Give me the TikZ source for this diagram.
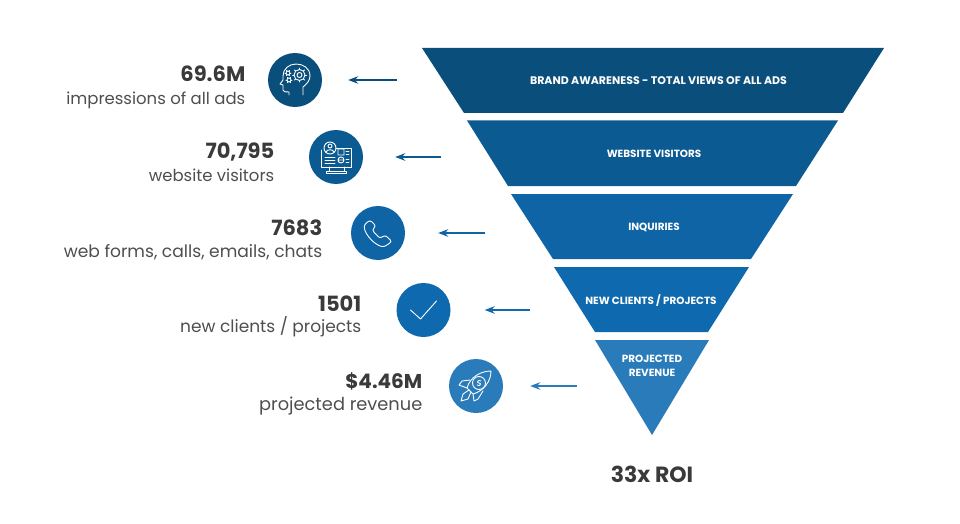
\documentclass[tikz,border=0pt]{standalone}
\usepackage{fontspec}
\setmainfont{Poppins}
\usepackage{xcolor}
\usetikzlibrary{arrows.meta}
\definecolor{tierA}{HTML}{0A4E7C}
\definecolor{tierB}{HTML}{0B5A92}
\definecolor{tierC}{HTML}{0E64A5}
\definecolor{tierD}{HTML}{0F69AE}
\definecolor{tierE}{HTML}{2A7BBA}
\definecolor{ink}{HTML}{3A3A3A}
\tikzset{
  stagelabel/.style={text=white, inner sep=0pt, align=center, font=\fontsize{10.4}{14}\selectfont\bfseries},
  valuelabel/.style={text=ink, inner sep=0pt, anchor=base east, font=\fontsize{21}{24}\selectfont\bfseries},
  captionlabel/.style={text=ink!90, inner sep=0pt, anchor=base east, font=\fontsize{16.5}{20}\selectfont},
  iconbadge/.style={circle, minimum size=54pt, inner sep=0pt},
  iconline/.style={draw=white, line width=.9pt, line join=round, line cap=round},
  pointer/.style={-{Stealth[length=10pt,width=7.5pt]}, line width=1.3pt},
}
\begin{document}
\begin{tikzpicture}[x=1pt,y=-1pt]
\useasboundingbox (0,0) rectangle (960,524);

% funnel
\fill[tierA] (422,48) -- (884,48) -- (843,113) -- (464,113) -- cycle;
\fill[tierB] (467,120.5) -- (838,120.5) -- (796,186) -- (508,186) -- cycle;
\fill[tierC] (511,194) -- (793,194) -- (751,259) -- (553,259) -- cycle;
\fill[tierD] (554,267) -- (749,267) -- (708,332) -- (595,332) -- cycle;
\fill[tierE] (595,340) -- (709,340) -- (652,435) -- cycle;

\node[stagelabel, font=\fontsize{11}{14}\selectfont\bfseries] (stageA) at (658.5,81) {BRAND AWARENESS - TOTAL VIEWS OF ALL ADS};
\node[stagelabel] (stageB) at (654,154) {WEBSITE VISITORS};
\node[stagelabel] (stageC) at (654,227) {INQUIRIES};
\node[stagelabel] (stageD) at (651,300.5) {NEW CLIENTS / PROJECTS};
\node[stagelabel] (stageE) at (652,365.5) {PROJECTED\\REVENUE};

\node[text=ink, inner sep=0pt, font=\fontsize{22}{26}\selectfont\bfseries] (roi) at (652,474) {33x ROI};

% figures on the left
\node[valuelabel] (valueA) at (245.5,82) {69.6M};
\node[captionlabel] (captionA) at (245.5,105) {impressions of all ads};
\node[valuelabel] (valueB) at (274.5,158) {70,795};
\node[captionlabel] (captionB) at (274.5,181) {website visitors};
\node[valuelabel] (valueC) at (322.5,235) {7683};
\node[captionlabel, font=\fontsize{17.1}{20}\selectfont] (captionC) at (322.5,257.5) {web forms, calls, emails, chats};
\node[valuelabel] (valueD) at (361.5,311) {1501};
\node[captionlabel, font=\fontsize{17}{20}\selectfont] (captionD) at (361.5,332) {new clients / projects};
\node[valuelabel, font=\fontsize{20}{24}\selectfont\bfseries] (valueE) at (422.5,388) {\$4.46M};
\node[captionlabel, font=\fontsize{17.8}{20}\selectfont] (captionE) at (422.5,410.5) {projected revenue};

% badges
\node[iconbadge, fill=tierA] (iconA) at (295,80) {};
\node[iconbadge, fill=tierB] (iconB) at (336,157) {};
\node[iconbadge, fill=tierC] (iconC) at (378,233) {};
\node[iconbadge, fill=tierD] (iconD) at (423.5,310) {};
\node[iconbadge, fill=tierE] (iconE) at (476,386) {};

% arrows
\coordinate (tailA) at (397,80);
\coordinate (tailB) at (441,157);
\coordinate (tailC) at (485,233);
\coordinate (tailD) at (530,310);
\coordinate (tailE) at (577,386);
\draw[pointer, tierA, shorten >=26pt] (tailA) -- (iconA);
\draw[pointer, tierB, shorten >=32pt] (tailB) -- (iconB);
\draw[pointer, tierC, shorten >=33pt] (tailC) -- (iconC);
\draw[pointer, tierD, shorten >=34pt] (tailD) -- (iconD);
\draw[pointer, tierE, shorten >=27pt] (tailE) -- (iconE);

% head with gears
\begin{scope}[shift={(295,80)}, iconline]
\draw (8,15) -- (8,7) .. controls (12,4) and (15,0) .. (15,-4) .. controls (15,-12) and (8,-16) .. (1,-16)
  .. controls (-6,-16) and (-12,-11) .. (-12,-4) -- (-12,0) -- (-15,4) -- (-12,5) -- (-12,10)
  .. controls (-12,12) and (-9,12) .. (-6,12) -- (-6,15);
\draw (4.5,-5) circle[radius=5.5pt] (4.5,-5) circle[radius=2.5pt];
\foreach \a in {0,45,...,315} \draw (4.5,-5) ++(\a:5.5pt) -- ++(\a:1.5pt);
\draw (-7,-7) circle[radius=2pt] (-6,0) circle[radius=2pt];
\foreach \a in {0,60,...,300} \draw (-7,-7) ++(\a:2pt) -- ++(\a:1pt) (-6,0) ++(\a:2pt) -- ++(\a:1pt);
\end{scope}

% monitor with profile
\begin{scope}[shift={(336,157)}, iconline]
\draw (-15,-7) -- (-15,10) -- (15,10) -- (15,-9) -- (0,-9);
\draw (-6,-9) circle[radius=6pt] (-6,-11) circle[radius=2pt];
\draw (-10,-5) .. controls (-9,-8) and (-3,-8) .. (-2,-5);
\draw (-11,0) -- (-1,0) (-11,3) -- (-1,3) (-11,6) -- (-1,6);
\draw (2,-8) rectangle (8,-2) (5,3) circle[radius=3pt] (2,3) -- (8,3);
\draw (10,-6) -- (13,-6) (10,-3) -- (13,-3) (10,2) -- (13,2) (10,5) -- (13,5);
\draw (-7,10) -- (-7,14) (8,10) -- (8,14);
\draw (-10,14) rectangle (10,16);
\end{scope}

% phone
\begin{scope}[shift={(378,233)}, iconline]
\draw[rounded corners=2.5pt] (-8,-13) -- (-14,-8) .. controls (-13,2) and (-3,12) .. (6,14)
  -- (14,8.5) -- (7,2) -- (2,5.5) -- (-6,-3) -- (-2,-7) -- cycle;
\end{scope}

% check mark
\draw[iconline, shift={(423.5,310)}] (-13,0) -- (-3,9) -- (13,-9);

% rocket
\begin{scope}[shift={(476,386)}, iconline]
\draw (15,-15) .. controls (5,-15) and (-6,-9) .. (-9,2) -- (-3,8) .. controls (8,5) and (15,-5) .. (15,-15);
\draw (3,-3) circle[radius=6.5pt];
\draw (5,-5) .. controls (2,-7) and (0,-3) .. (3,-3) .. controls (6,-3) and (4,1) .. (1,-1);
\draw (-6,-6) -- (-14,-5) -- (-17,-1) -- (-9,2);
\draw (-3,8) -- (-2,15) -- (2,13) -- (7,5);
\draw (-7,4) -- (-13,8) -- (-15,15) -- (-8,13) -- (-5,6);
\end{scope}
\end{tikzpicture}
\end{document}
